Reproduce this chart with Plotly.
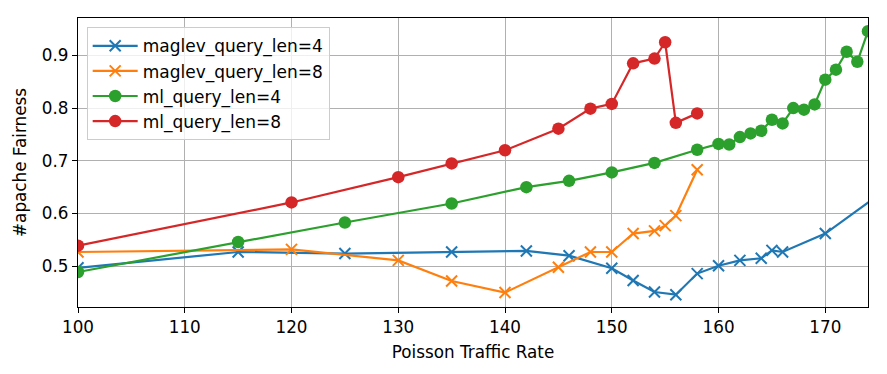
import plotly.graph_objects as go

# ---- data ----
maglev4_x = [100, 115, 125, 135, 142, 146, 150, 152, 154, 156, 158, 160, 162, 164, 165, 166, 170, 176]
maglev4_y = [0.497, 0.527, 0.524, 0.527, 0.529, 0.520, 0.496, 0.473, 0.451, 0.446, 0.486, 0.501, 0.511, 0.515, 0.530, 0.527, 0.562, 0.650]

maglev8_x = [100, 120, 130, 135, 140, 145, 148, 150, 152, 154, 155, 156, 158]
maglev8_y = [0.527, 0.532, 0.511, 0.472, 0.450, 0.498, 0.527, 0.527, 0.562, 0.567, 0.577, 0.596, 0.683]

ml4_x = [100, 115, 125, 135, 142, 146, 150, 154, 158, 160, 161, 162, 163, 164, 165, 166, 167, 168, 169, 170, 171, 172, 173, 174]
ml4_y = [0.489, 0.546, 0.583, 0.619, 0.650, 0.662, 0.678, 0.696, 0.721, 0.732, 0.731, 0.745, 0.752, 0.757, 0.778, 0.771, 0.800, 0.797, 0.807, 0.854, 0.873, 0.907, 0.888, 0.946]

ml8_x = [100, 120, 130, 135, 140, 145, 148, 150, 152, 154, 155, 156, 158]
ml8_y = [0.539, 0.621, 0.669, 0.695, 0.720, 0.761, 0.799, 0.808, 0.885, 0.894, 0.925, 0.772, 0.790]

x_ticks = [100, 110, 120, 130, 140, 150, 160, 170]
y_ticks = [0.5, 0.6, 0.7, 0.8, 0.9]

FONT = "DejaVu Sans"

fig = go.Figure()

def add_x(x, y, name, color):
    fig.add_trace(go.Scatter(
        x=x, y=y, name=name, mode="lines+markers",
        line=dict(color=color, width=2.2),
        marker=dict(symbol="x-thin", size=11, color=color,
                    line=dict(width=2, color=color)),
    ))

def add_o(x, y, name, color):
    fig.add_trace(go.Scatter(
        x=x, y=y, name=name, mode="lines+markers",
        line=dict(color=color, width=2.2),
        marker=dict(symbol="circle", size=12.5, color=color),
    ))

add_x(maglev4_x, maglev4_y, "maglev_query_len=4", "#1f77b4")
add_x(maglev8_x, maglev8_y, "maglev_query_len=8", "#ff7f0e")
add_o(ml4_x, ml4_y, "ml_query_len=4", "#2ca02c")
add_o(ml8_x, ml8_y, "ml_query_len=8", "#d62728")

axis_common = dict(
    showline=True, linecolor="black", linewidth=1.3, mirror=True,
    showgrid=True, gridcolor="#b0b0b0", gridwidth=1.4,
    ticks="outside", ticklen=5, tickwidth=1.2, tickcolor="black",
    zeroline=False,
    tickfont=dict(family=FONT, size=16.8, color="black"),
)

fig.update_xaxes(
    range=[100, 174], tickvals=x_ticks, ticktext=[str(v) for v in x_ticks],
    title=dict(text="Poisson Traffic Rate", font=dict(family=FONT, size=16.8, color="black"), standoff=9),
    **axis_common,
)
fig.update_yaxes(
    range=[0.4226, 0.971], tickvals=y_ticks, ticktext=[f"{v:.1f}" for v in y_ticks],
    title=dict(text="#apache Fairness", font=dict(family=FONT, size=16.8, color="black"), standoff=10),
    **axis_common,
)

fig.update_layout(
    width=887, height=374,
    margin=dict(l=70, r=27, t=10, b=75),
    paper_bgcolor="white", plot_bgcolor="white",
    font=dict(family=FONT, size=16.8, color="black"),
    legend=dict(
        x=0.011, y=0.968, xanchor="left", yanchor="top",
        bgcolor="rgba(255,255,255,0.8)", bordercolor="#cccccc", borderwidth=1,
        font=dict(family=FONT, size=17, color="black"),
        itemwidth=45, tracegroupgap=0,
    ),
    showlegend=True,
)

fig.write_html("out.html")
